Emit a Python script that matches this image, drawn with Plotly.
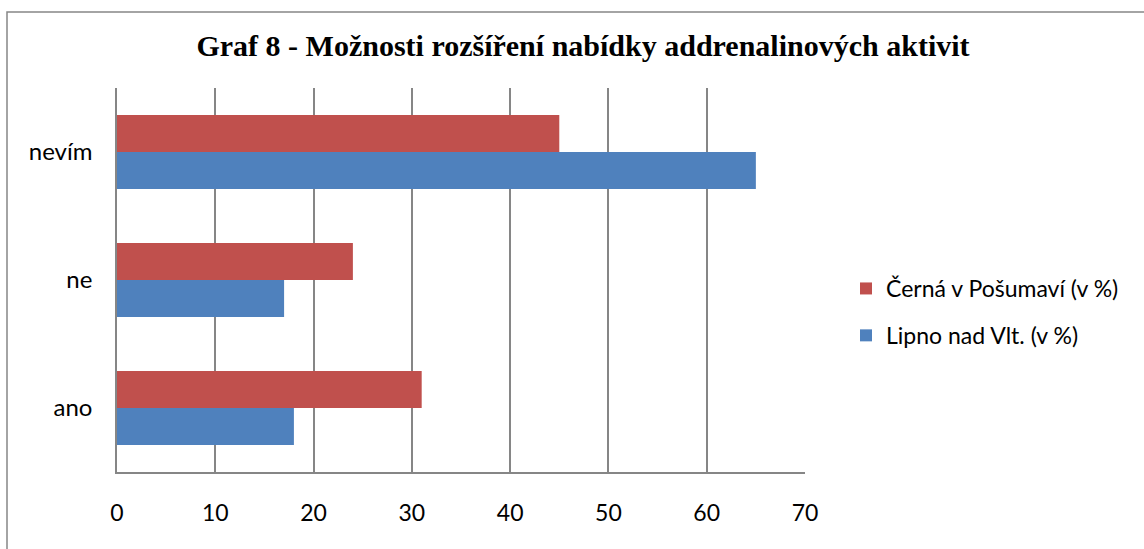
import plotly.graph_objects as go

categories = ["ano", "ne", "nevím"]
lipno = [18, 17, 65]
cerna = [31, 24, 45]
series_names = ["Lipno nad Vlt. (v %)", "Černá v Pošumaví (v %)"]
x_ticks = [0, 10, 20, 30, 40, 50, 60, 70]

fig = go.Figure()
fig.add_trace(go.Bar(y=categories, x=lipno, orientation="h", name=series_names[0],
                     marker=dict(color="#4F81BD", line=dict(width=0)),
                     legendgroup="a", legendrank=2))
fig.add_trace(go.Bar(y=categories, x=cerna, orientation="h", name=series_names[1],
                     marker=dict(color="#C0504D", line=dict(width=0)),
                     legendgroup="b", legendrank=1))

W, H = 1144, 549
L, R, T, B = 117, 805, 88, 472
PW, PH = R - L, B - T

fig.update_layout(
    width=W, height=H,
    margin=dict(l=L, r=W - R, t=T, b=H - B, autoexpand=False),
    paper_bgcolor="white", plot_bgcolor="white",
    barmode="group", bargap=0.42, bargroupgap=0,
    title=dict(text="<b>Graf 8 - Možnosti rozšíření nabídky addrenalinových aktivit</b>",
               x=(583 - L) / PW, xanchor="center", xref="paper", y=1 - 45 / H, yanchor="middle",
               font=dict(family="Liberation Serif", size=30, color="black")),
    font=dict(family="Lato", size=24, color="black"),
    legend=dict(x=(846 - L) / PW, xanchor="left", y=(B - 312) / PH, yanchor="middle",
                traceorder="grouped", tracegroupgap=14,
                font=dict(family="Lato", size=23, color="black"),
                bgcolor="rgba(0,0,0,0)"),
    showlegend=True,
)

fig.update_xaxes(range=[0, 70], tickvals=x_ticks, showgrid=True, gridcolor="#868686",
                 gridwidth=1.5, showline=True, linecolor="#868686", linewidth=1.5,
                 zeroline=False, ticks="", ticklabelstandoff=20,
                 tickfont=dict(family="Lato", size=23, color="black"))
fig.update_yaxes(showgrid=False, showline=True, linecolor="#868686", linewidth=1.5,
                 ticks="", ticklabelstandoff=18,
                 tickfont=dict(family="Lato", size=24, color="black"))

# chart area border
fig.add_shape(type="rect", xref="paper", yref="paper",
              x0=(7 - L) / PW, x1=(1150 - L) / PW,
              y0=(B - 600) / PH, y1=(B - 12) / PH,
              line=dict(color="#868686", width=1.5), fillcolor="rgba(0,0,0,0)", layer="below")

fig.write_html("out.html", config={"displayModeBar": False},
               post_script="document.body.style.margin='0px';document.body.style.overflow='hidden';")
